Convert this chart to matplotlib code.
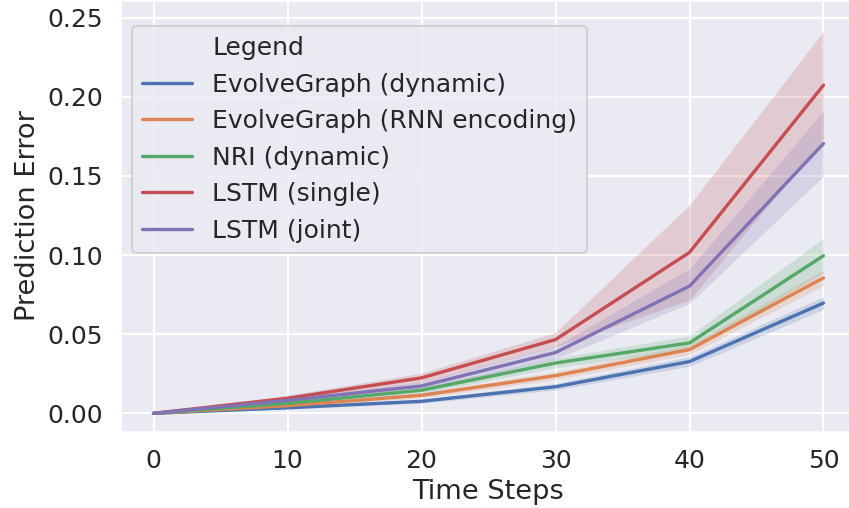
import numpy as np
import matplotlib
matplotlib.use("Agg")
import matplotlib.pyplot as plt
import seaborn as sns

steps = [0, 10, 20, 30, 40, 50]

names = ["EvolveGraph (dynamic)", "EvolveGraph (RNN encoding)", "NRI (dynamic)",
         "LSTM (single)", "LSTM (joint)"]

# mean error per model
evolve_dyn = [0, 0.0035, 0.0076, 0.0168, 0.0327, 0.0697]
evolve_rnn = [0, 0.0048, 0.0114, 0.0238, 0.0403, 0.0856]
nri_dyn = [0, 0.0063, 0.0146, 0.0318, 0.0445, 0.0996]
lstm_single = [0, 0.0095, 0.0224, 0.0466, 0.1017, 0.2074]
lstm_joint = [0, 0.0082, 0.0173, 0.0384, 0.0804, 0.1705]

# half width of the shaded band
evolve_dyn_ci = [0, 0.0008, 0.0012, 0.002, 0.003, 0.004]
evolve_rnn_ci = [0, 0.001, 0.0015, 0.0025, 0.003, 0.005]
nri_dyn_ci = [0, 0.0012, 0.002, 0.003, 0.0045, 0.011]
lstm_single_ci = [0, 0.002, 0.003, 0.0045, 0.03, 0.034]
lstm_joint_ci = [0, 0.0015, 0.0025, 0.004, 0.011, 0.0205]

means = [evolve_dyn, evolve_rnn, nri_dyn, lstm_single, lstm_joint]
cis = [evolve_dyn_ci, evolve_rnn_ci, nri_dyn_ci, lstm_single_ci, lstm_joint_ci]

sns.set_theme(style="darkgrid", context="talk")
colors = sns.color_palette("deep")

fig = plt.figure(figsize=(8.49, 5.08), dpi=100)
ax = fig.add_axes([120 / 849, 76 / 508, 737 / 849, 432 / 508])

ax.plot([], [], " ", label="Legend")
for i, name in enumerate(names):
    m = np.array(means[i])
    c = np.array(cis[i])
    ax.plot(steps, m, color=colors[i], lw=2.4, label=name)
    ax.fill_between(steps, m - c, m + c, color=colors[i], alpha=0.2, lw=0)

ax.set_xlim(-2.5, 52.5)
ax.set_ylim(-0.0118, 0.2612)
ax.set_xticks([0, 10, 20, 30, 40, 50])
ax.set_yticks([0.0, 0.05, 0.10, 0.15, 0.20, 0.25])
ax.set_yticklabels(["0.00", "0.05", "0.10", "0.15", "0.20", "0.25"])
ax.tick_params(labelsize=18)
ax.set_xlabel("Time Steps", fontsize=19.6)
ax.set_ylabel("Prediction Error", fontsize=19.6)

ax.legend(loc="upper left", bbox_to_anchor=(0.0163, 0.9398), borderaxespad=0,
          fontsize=18)

fig.savefig("out.png", dpi=100)
